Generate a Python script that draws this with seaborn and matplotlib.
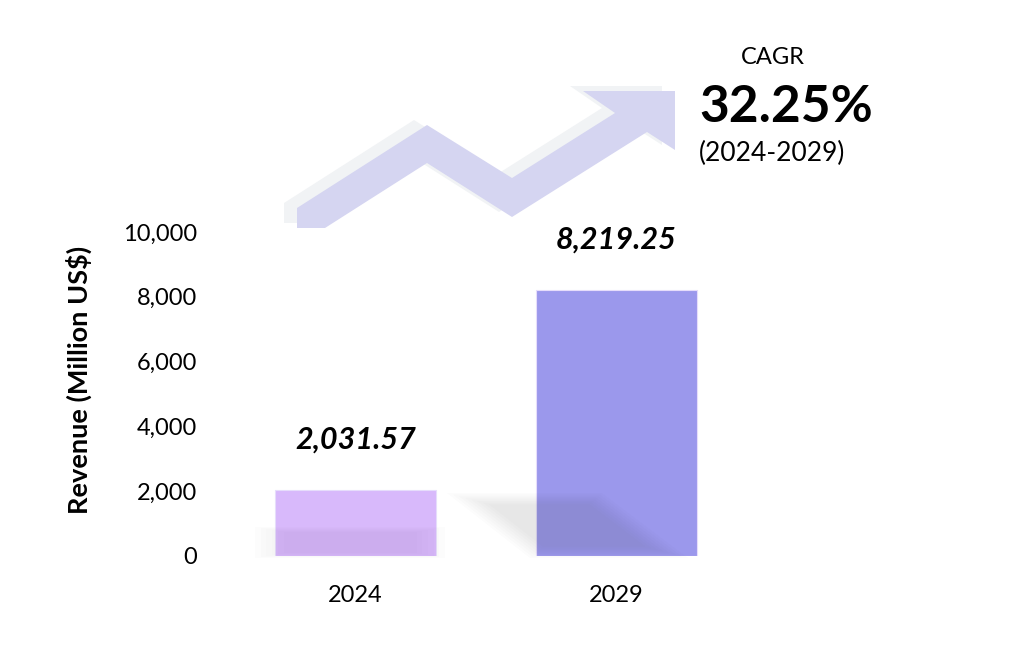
import numpy as np
import pandas as pd
import seaborn as sns
import matplotlib.pyplot as plt
from matplotlib.patches import Polygon
from matplotlib.ticker import FuncFormatter

# ---- chart data ----
years = ["2024", "2029"]
revenue = [2031.57, 8219.25]
bar_colors = ["#D8B9FB", "#9B98EC"]
y_ticks = [0, 2000, 4000, 6000, 8000, 10000]
cagr_text = "32.25%"
cagr_period = "(2024-2029)"
# --------------------

W, H = 1025, 671

sns.set_theme(style="white")
plt.rcParams["font.family"] = ["Lato", "DejaVu Sans"]

fig = plt.figure(figsize=(W / 100, H / 100), dpi=100)
ax = fig.add_axes([225 / W, 1 - 556 / H, 522 / W, 324 / H])


def px(points):
    # image pixel coords (top-left origin) -> figure fraction
    return [(x / W, 1 - y / H) for x, y in points]


def soft_poly(pts, color, alpha, steps, shrink, z):
    # stack shrinking copies to fake a blurred shadow
    cx = np.mean([p[0] for p in pts])
    cy = np.mean([p[1] for p in pts])
    for k in range(steps):
        f = 1 - k * shrink
        sp = [(cx + (x - cx) * f, cy + (y - cy) * f) for x, y in pts]
        fig.patches.append(Polygon(px(sp), closed=True, transform=fig.transFigure,
                                   facecolor=color, alpha=alpha, edgecolor="none", zorder=z))


# decorative trend arrow (shadow first, then band)
arrow = [(297, 208), (427, 125), (512, 178), (615, 113), (583, 91), (675, 91),
         (675, 150), (647, 132), (512, 217), (427, 163), (325, 228), (297, 228)]
shadow = [(x - 13, y - 5) for x, y in arrow]
fig.patches.append(Polygon(px(shadow), closed=True, transform=fig.transFigure,
                           facecolor="#F1F3F5", edgecolor="none", zorder=0))
fig.patches.append(Polygon(px(arrow), closed=True, transform=fig.transFigure,
                           facecolor="#D5D5F1", edgecolor="none", zorder=1))

df = pd.DataFrame({"year": years, "revenue": revenue})
sns.barplot(data=df, x="year", y="revenue", hue="year", palette=bar_colors,
            width=0.617, legend=False, saturation=1, ax=ax, zorder=2,
            edgecolor="#E6DDFB", linewidth=0.8)

# soft drop shadows near the bar feet
soft_poly([(447, 493), (602, 493), (688, 558), (530, 558)], "#505050", 0.016, 8, 0.05, 3)
soft_poly([(255, 527), (445, 527), (445, 558), (255, 558)], "#505050", 0.012, 6, 0.06, 3)

for i, v in enumerate(revenue):
    ax.text(i, v + 1550, f"{v:,.2f}", ha="center", va="center", fontsize=22,
            fontweight="bold", fontstyle="italic", color="black")

ax.set_ylim(0, 10000)
ax.set_xlim(-0.5, 1.5)
ax.set_yticks(y_ticks)
ax.yaxis.set_major_formatter(FuncFormatter(lambda v, p: f"{v:,.0f}"))
ax.tick_params(axis="y", length=0, pad=20, labelsize=17, labelcolor="black")
ax.tick_params(axis="x", length=0, pad=21, labelsize=17, labelcolor="black")
ax.set_xlabel("")
ax.set_ylabel("Revenue (Million US$)", fontsize=19.5, fontweight="bold", color="black")
ax.yaxis.set_label_coords(-0.255, 0.543)
sns.despine(ax=ax, left=True, bottom=True)
ax.set_facecolor("none")

fig.text(773 / W, 1 - 57 / H, "CAGR", ha="center", va="center", fontsize=17, color="black")
fig.text(699 / W, 1 - 107 / H, cagr_text, ha="left", va="center", fontsize=37,
         fontweight="bold", color="black")
fig.text(699 / W, 1 - 153 / H, cagr_period, ha="left", va="center", fontsize=19, color="black")

fig.savefig("out.png", dpi=100)
